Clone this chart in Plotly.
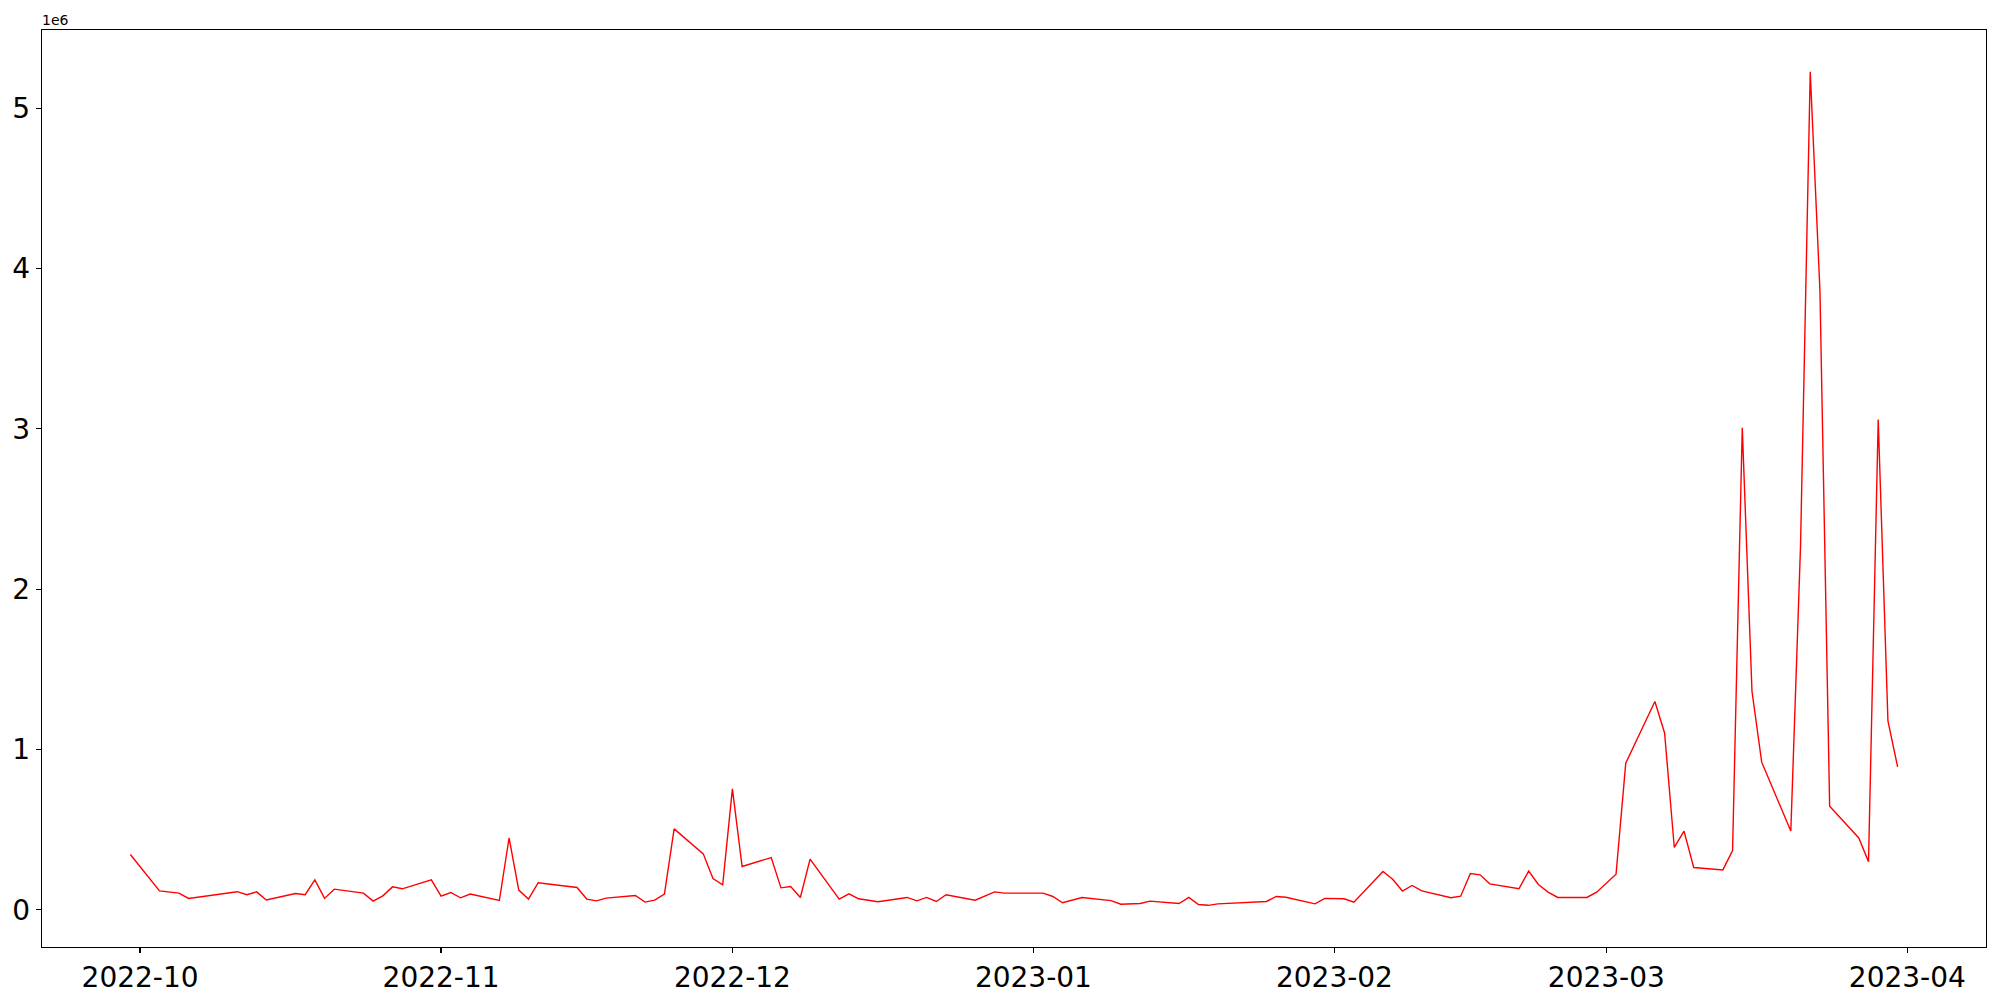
import plotly.graph_objects as go
import pandas as pd

dates = [
    "2022-09-30", "2022-10-03", "2022-10-05", "2022-10-06", "2022-10-11", "2022-10-12",
    "2022-10-13", "2022-10-14", "2022-10-17", "2022-10-18", "2022-10-19", "2022-10-20",
    "2022-10-21", "2022-10-24", "2022-10-25", "2022-10-26", "2022-10-27", "2022-10-28",
    "2022-10-31", "2022-11-01", "2022-11-02", "2022-11-03", "2022-11-04", "2022-11-07",
    "2022-11-08", "2022-11-09", "2022-11-10", "2022-11-11", "2022-11-15", "2022-11-16",
    "2022-11-17", "2022-11-18", "2022-11-21", "2022-11-22", "2022-11-23", "2022-11-24",
    "2022-11-25", "2022-11-28", "2022-11-29", "2022-11-30", "2022-12-01", "2022-12-02",
    "2022-12-05", "2022-12-06", "2022-12-07", "2022-12-08", "2022-12-09", "2022-12-12",
    "2022-12-13", "2022-12-14", "2022-12-16", "2022-12-19", "2022-12-20", "2022-12-21",
    "2022-12-22", "2022-12-23", "2022-12-26", "2022-12-28", "2022-12-29", "2023-01-02",
    "2023-01-03", "2023-01-04", "2023-01-06", "2023-01-09", "2023-01-10", "2023-01-12",
    "2023-01-13", "2023-01-16", "2023-01-17", "2023-01-18", "2023-01-19", "2023-01-20",
    "2023-01-25", "2023-01-26", "2023-01-27", "2023-01-30", "2023-01-31", "2023-02-02",
    "2023-02-03", "2023-02-06", "2023-02-07", "2023-02-08", "2023-02-09", "2023-02-10",
    "2023-02-13", "2023-02-14", "2023-02-15", "2023-02-16", "2023-02-17", "2023-02-20",
    "2023-02-21", "2023-02-22", "2023-02-23", "2023-02-24", "2023-02-27", "2023-02-28",
    "2023-03-02", "2023-03-03", "2023-03-06", "2023-03-07", "2023-03-08", "2023-03-09",
    "2023-03-10", "2023-03-13", "2023-03-14", "2023-03-15", "2023-03-16", "2023-03-17",
    "2023-03-20", "2023-03-21", "2023-03-22", "2023-03-23", "2023-03-24", "2023-03-27",
    "2023-03-28", "2023-03-29", "2023-03-30", "2023-03-31",
]

values = [
    345000, 118000, 104000, 71000, 113000, 94000,
    112000, 61000, 102000, 94000, 187000, 71000,
    129000, 104000, 54000, 87000, 143000, 131000,
    187000, 85000, 108000, 75000, 98000, 58000,
    448000, 123000, 67000, 169000, 139000, 67000,
    56000, 73000, 89000, 48000, 60000, 98000,
    505000, 349000, 195000, 156000, 754000, 270000,
    326000, 137000, 145000, 77000, 316000, 67000,
    100000, 69000, 50000, 77000, 56000, 77000,
    52000, 94000, 60000, 112000, 104000, 104000,
    83000, 44000, 77000, 57000, 35000, 39000,
    54000, 39000, 77000, 33000, 28000, 37000,
    52000, 83000, 78000, 37000, 71000, 69000,
    48000, 239000, 191000, 117000, 152000, 118000,
    75000, 85000, 226000, 218000, 162000, 131000,
    241000, 158000, 110000, 77000, 77000, 110000,
    222000, 914000, 1299000, 1103000, 389000, 491000,
    264000, 249000, 370000, 3007000, 1363000, 921000,
    491000, 2270000, 5228000, 3860000, 646000, 448000,
    300000, 3059000, 1178000, 891000,
]

x_tick_values = ["2022-10-01", "2022-11-01", "2022-12-01", "2023-01-01",
                 "2023-02-01", "2023-03-01", "2023-04-01"]
x_tick_labels = ["2022-10", "2022-11", "2022-12", "2023-01",
                 "2023-02", "2023-03", "2023-04"]
y_tick_values = [0, 1e6, 2e6, 3e6, 4e6, 5e6]
y_tick_labels = ["0", "1", "2", "3", "4", "5"]

dt = pd.to_datetime(dates)
span = dt.max() - dt.min()
x_range = [dt.min() - span * 0.05, dt.max() + span * 0.05]
vmin, vmax = min(values), max(values)
vspan = vmax - vmin
y_range = [vmin - vspan * 0.05, vmax + vspan * 0.05]

font_family = "DejaVu Sans"

fig = go.Figure()
fig.add_trace(go.Scatter(
    x=dt, y=values, mode="lines",
    line=dict(color="#ff0000", width=1.4),
    showlegend=False, hoverinfo="skip",
))

axis_common = dict(
    showgrid=False, zeroline=False, automargin=False,
    showline=True, linecolor="black", linewidth=1.2, mirror=True,
    ticks="outside", ticklen=5, tickwidth=1.2, tickcolor="black",
    tickfont=dict(family=font_family, size=28, color="black"),
)

fig.update_xaxes(
    range=x_range, tickmode="array",
    tickvals=x_tick_values, ticktext=x_tick_labels, **axis_common,
)
fig.update_yaxes(
    range=y_range, tickmode="array",
    tickvals=y_tick_values, ticktext=y_tick_labels, **axis_common,
)

fig.add_annotation(
    text="1e6", xref="paper", yref="paper", x=0, y=1,
    xanchor="left", yanchor="bottom", showarrow=False,
    font=dict(family=font_family, size=14, color="black"),
    xshift=-2,
)

fig.update_layout(
    template="none",
    width=2000, height=1000,
    margin=dict(l=42, r=14, t=30, b=53, pad=0, autoexpand=False),
    paper_bgcolor="white", plot_bgcolor="white",
    font=dict(family=font_family, color="black"),
    hovermode=False,
)

fig.write_html(
    "out.html",
    config={"displayModeBar": False, "staticPlot": True},
    post_script="document.body.style.margin='0';document.body.style.overflow='hidden';",
)
